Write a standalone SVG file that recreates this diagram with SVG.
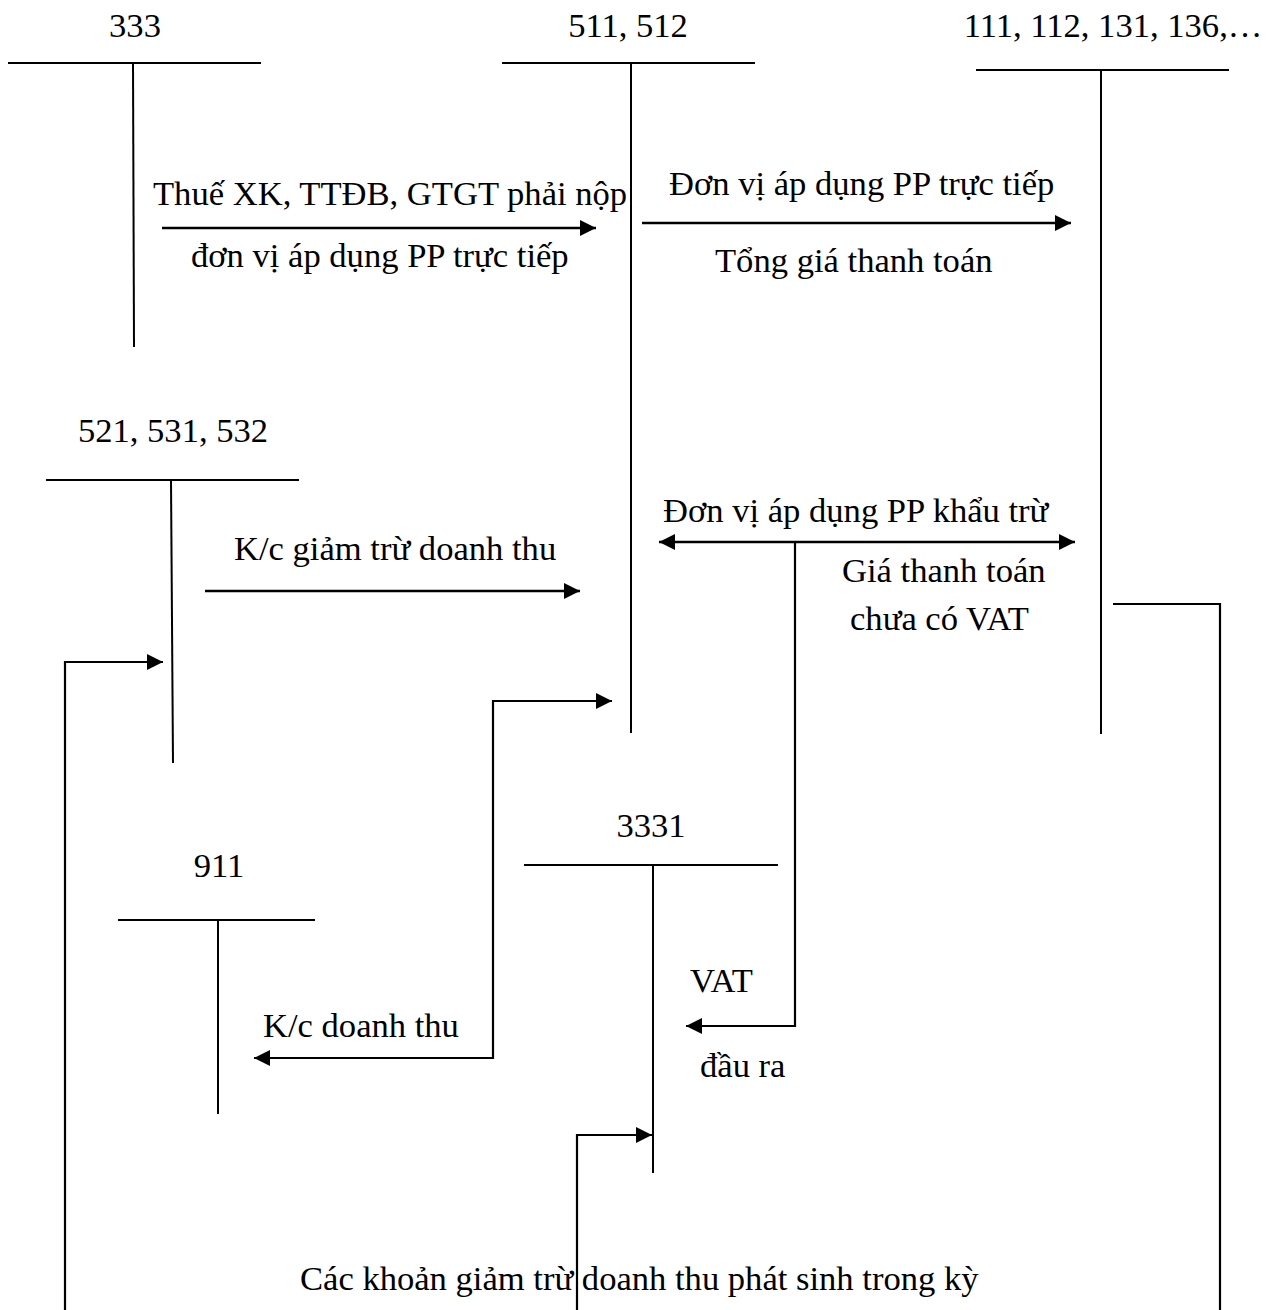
<svg xmlns="http://www.w3.org/2000/svg" width="1276" height="1310" viewBox="0 0 1276 1310">
<defs>
<style>
text{font-family:"Liberation Serif","Times New Roman",serif;font-size:34.6px;fill:#000}
.t{stroke:#000;stroke-width:2;fill:none}
.a{stroke:#000;stroke-width:2.6;fill:none}
.e{stroke:#000;stroke-width:2.2;fill:none}
</style>
<marker id="ah" viewBox="0 0 16 16" markerUnits="userSpaceOnUse" markerWidth="16" markerHeight="16" refX="16" refY="8" orient="auto-start-reverse">
<path d="M0,0 L16,8 L0,16 z" fill="#000"/>
</marker>
</defs>
<rect width="1276" height="1310" fill="#fff"/>
<g id="acc-333">
<text x="135" y="37" text-anchor="middle">333</text>
<line class="t" x1="8" y1="63" x2="261" y2="63"/>
<line class="t" x1="133" y1="63" x2="134" y2="347"/>
</g>
<g id="acc-511">
<text x="628" y="37" text-anchor="middle">511, 512</text>
<line class="t" x1="502" y1="63" x2="755" y2="63"/>
<line class="t" x1="631" y1="63" x2="631" y2="733"/>
</g>
<g id="acc-111">
<text x="1113" y="37" text-anchor="middle">111, 112, 131, 136,…</text>
<line class="t" x1="976" y1="70" x2="1229" y2="70"/>
<line class="t" x1="1101" y1="70" x2="1101" y2="734"/>
</g>
<g id="acc-521">
<text x="173" y="442" text-anchor="middle">521, 531, 532</text>
<line class="t" x1="46" y1="480" x2="299" y2="480"/>
<line class="t" x1="171" y1="480" x2="173" y2="763"/>
</g>
<g id="acc-911">
<text x="219" y="877" text-anchor="middle">911</text>
<line class="t" x1="118" y1="920" x2="315" y2="920"/>
<line class="t" x1="218" y1="920" x2="218" y2="1114"/>
</g>
<g id="acc-3331">
<text x="651" y="837" text-anchor="middle">3331</text>
<line class="t" x1="524" y1="865" x2="778" y2="865"/>
<line class="t" x1="653" y1="865" x2="653" y2="1173"/>
</g>
<g id="connectors">
<line class="a" x1="162" y1="228" x2="596" y2="228" marker-end="url(#ah)"/>
<line class="a" x1="642" y1="223" x2="1071" y2="223" marker-end="url(#ah)"/>
<line class="a" x1="205" y1="591" x2="580" y2="591" marker-end="url(#ah)"/>
<line class="a" x1="659" y1="542" x2="1075" y2="542" marker-start="url(#ah)" marker-end="url(#ah)"/>
<polyline class="e" points="795,542 795,1026 686,1026" marker-end="url(#ah)"/>
<polyline class="e" points="65,1310 65,662 163,662" marker-end="url(#ah)"/>
<polyline class="e" points="254,1058 493,1058 493,701 612,701" marker-start="url(#ah)" marker-end="url(#ah)"/>
<polyline class="e" points="577,1310 577,1135 652,1135" marker-end="url(#ah)"/>
<polyline class="e" points="1113,604 1220,604 1220,1310"/>
</g>
<g id="labels">
<text x="153" y="205">Thuế XK, TTĐB, GTGT phải nộp</text>
<text x="191" y="267">đơn vị áp dụng PP trực tiếp</text>
<text x="669" y="195">Đơn vị áp dụng PP trực tiếp</text>
<text x="715" y="272">Tổng giá thanh toán</text>
<text x="234" y="560">K/c giảm trừ doanh thu</text>
<text x="663" y="522">Đơn vị áp dụng PP khẩu trừ</text>
<text x="842" y="582">Giá thanh toán</text>
<text x="850" y="630">chưa có VAT</text>
<text x="690" y="992">VAT</text>
<text x="700" y="1077">đầu ra</text>
<text x="263" y="1037">K/c doanh thu</text>
<text x="300" y="1290">Các khoản giảm trừ doanh thu phát sinh trong kỳ</text>
</g>
</svg>
